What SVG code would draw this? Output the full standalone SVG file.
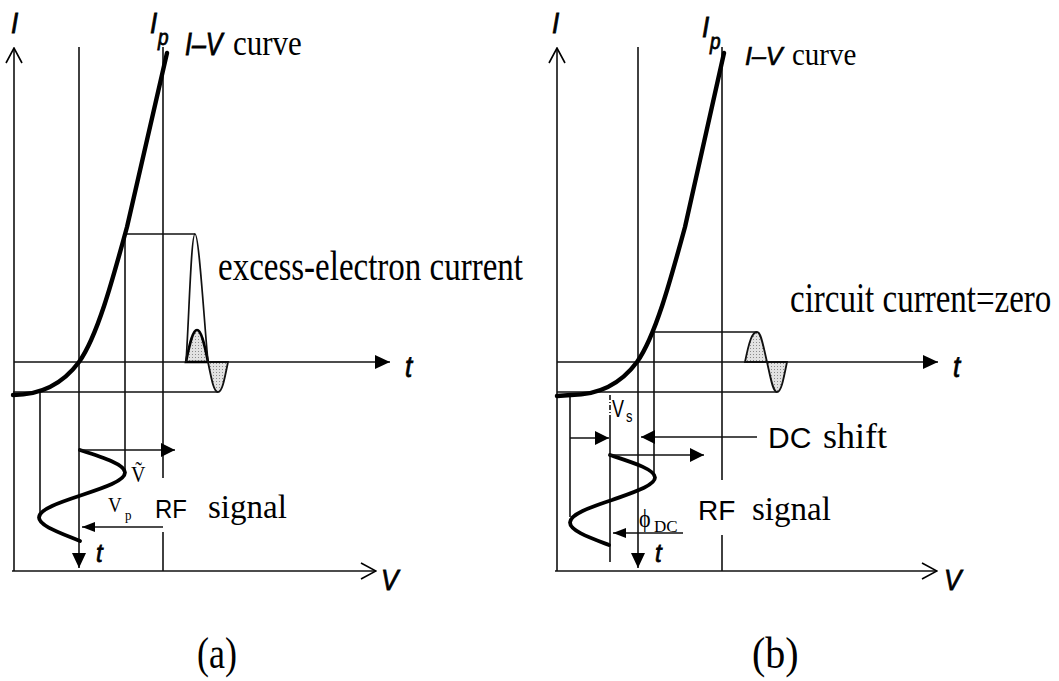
<svg xmlns="http://www.w3.org/2000/svg" width="1059" height="681" viewBox="0 0 1059 681">
<style>
.ln{stroke:#111;stroke-width:1.6;fill:none}
.thick{stroke:#000;stroke-width:4.4;fill:none;stroke-linecap:round;stroke-linejoin:round}
.sine{stroke:#000;stroke-width:3.8;fill:none;stroke-linecap:round}
.wave{stroke:#111;stroke-width:1.7;fill:none}
.shade{fill:url(#stip);stroke:#111;stroke-width:1.8}
.shade2{fill:url(#stip);stroke:#000;stroke-width:2.6}
.sans{font-family:"Liberation Sans",Arial,sans-serif;fill:#000}
.it{font-style:italic;stroke:#000;stroke-width:0.7}
.serif{font-family:"Liberation Serif","DejaVu Serif","Times New Roman",serif;fill:#000}
</style>
<defs>
<pattern id="stip" width="3" height="3" patternUnits="userSpaceOnUse"><rect width="3" height="3" fill="#e2e2e2"/><rect x="0" y="0" width="1" height="1" fill="#8a8a8a"/></pattern>
<marker id="tri" viewBox="0 0 15 14" refX="15" refY="7" markerWidth="15" markerHeight="14" markerUnits="userSpaceOnUse" orient="auto"><path d="M0,0 L15,7 L0,14 z" fill="#000"/></marker>
<marker id="tri-s" viewBox="0 0 14 14" refX="14" refY="7" markerWidth="14" markerHeight="14" markerUnits="userSpaceOnUse" orient="auto"><path d="M0,0 L14,7 L0,14 z" fill="#000"/></marker>
<marker id="tri-m" viewBox="0 0 13 10" refX="13" refY="5" markerWidth="13" markerHeight="10" markerUnits="userSpaceOnUse" orient="auto"><path d="M0,0 L13,5 L0,10 z" fill="#000"/></marker>
<marker id="open" viewBox="-1 -1 17 18" refX="15" refY="8" markerWidth="17" markerHeight="18" markerUnits="userSpaceOnUse" orient="auto"><path d="M0,0 L15,8 L0,16" fill="none" stroke="#000" stroke-width="1.6"/></marker>
</defs>

<g id="panel-a">
  <g id="a-axes">
    <line class="ln" x1="14" y1="571" x2="14" y2="48" marker-end="url(#open)"/>
    <line class="ln" x1="12" y1="571" x2="376" y2="571" marker-end="url(#open)"/>
    <line class="ln" x1="14" y1="362" x2="390" y2="362" marker-end="url(#tri)"/>
  </g>
  <g id="a-guides">
    <line class="ln" x1="79" y1="47" x2="79" y2="568" marker-end="url(#tri)"/>
    <line class="ln" x1="163" y1="47" x2="163" y2="478"/>
    <line class="ln" x1="163" y1="532" x2="163" y2="571"/>
    <line class="ln" x1="125" y1="234" x2="125" y2="472"/>
    <line class="ln" x1="40" y1="392" x2="40" y2="516"/>
    <line class="ln" x1="125" y1="234" x2="195" y2="234"/>
    <line class="ln" x1="13" y1="392" x2="218" y2="392"/>
  </g>
  <g id="a-current">
    <path class="shade2" d="M186,362 C190,342 193,330 197,330 C201,330 204,342 208,362 Z"/>
    <path class="shade" d="M208,362 C212,382 214,392 218,392 C222,392 224,382 228,362 Z"/>
    <path class="wave" d="M186,362 C189,320 191,234 195,234 C199,234 204,320 208,362"/>
  </g>
  <path id="a-iv-curve" class="thick" d="M13,395 C40,395 62,385 79,362 C97,337 112,282 127,227 L167,53"/>
  <path id="a-rf" class="sine" d="M80,450 C103,457.4 125,464.3 125,472.5 C125,480.7 104.4,487.6 82,495 C59.6,502.4 39,509.3 39,517.5 C39,525.7 59.6,532.6 80,541"/>
  <g id="a-arrows">
    <line class="ln" x1="79" y1="450" x2="175" y2="450" marker-end="url(#tri-s)"/>
    <line class="ln" x1="163" y1="527" x2="82" y2="527" marker-end="url(#tri-m)"/>
  </g>
  <g id="a-labels">
    <text class="sans it" font-size="26" transform="translate(11,33) scale(1,1.15)">I</text>
    <text class="sans it" font-size="26" transform="translate(150,33) scale(1,1.15)">I</text>
    <text class="sans it" font-size="19" transform="translate(158,45) scale(1,1.15)">p</text>
    <text class="sans it" font-size="25" transform="translate(185,55) scale(1,1.25)">I–V</text>
    <text class="serif" font-size="31" transform="translate(233,55) scale(1,1.15)">curve</text>
    <text class="serif" font-size="33" transform="translate(218,280) scale(1,1.3)">excess-electron current</text>
    <text class="sans it" font-size="26" transform="translate(405,377) scale(1,1.15)">t</text>
    <text class="serif" font-size="20" transform="translate(131,482) scale(1,1.15)">Ṽ</text>
    <text class="serif" font-size="19" transform="translate(108,512) scale(1,1.1)">V</text>
    <text class="serif" font-size="13" transform="translate(125,520) scale(1,1.1)">p</text>
    <text class="sans" font-size="24" transform="translate(155,518) scale(1,1.05)">RF</text>
    <text class="serif" font-size="33" transform="translate(208,518)">signal</text>
    <text class="sans it" font-size="24" transform="translate(96,562) scale(1,1.1)">t</text>
    <text class="sans it" font-size="26" transform="translate(381,590) scale(1,1.1)">V</text>
    <text class="serif" font-size="36" transform="translate(197,668) scale(1,1.25)">(a)</text>
  </g>
</g>

<g id="panel-b">
  <g id="b-axes">
    <line class="ln" x1="557" y1="571" x2="557" y2="48" marker-end="url(#open)"/>
    <line class="ln" x1="555" y1="571" x2="937" y2="571" marker-end="url(#open)"/>
    <line class="ln" x1="557" y1="362" x2="938" y2="362" marker-end="url(#tri)"/>
  </g>
  <g id="b-guides">
    <line class="ln" x1="638" y1="47" x2="638" y2="568" marker-end="url(#tri)"/>
    <line class="ln" x1="722" y1="47" x2="722" y2="480"/>
    <line class="ln" x1="722" y1="535" x2="722" y2="571"/>
    <line class="ln" x1="654" y1="332" x2="654" y2="477"/>
    <line class="ln" x1="610" y1="395" x2="610" y2="420" stroke-dasharray="5,2,1,2"/>
    <line class="ln" x1="610" y1="420" x2="610" y2="562"/>
    <line class="ln" x1="570" y1="395" x2="570" y2="517"/>
    <line class="ln" x1="655" y1="332" x2="757" y2="332"/>
    <line class="ln" x1="557" y1="392" x2="777" y2="392"/>
  </g>
  <g id="b-current">
    <path class="shade" d="M745,362 C749,342 752,332 757,332 C761,332 763,345 767,362 Z"/>
    <path class="shade" d="M767,362 C771,380 773,392 777,392 C781,392 783,382 787,362 Z"/>
  </g>
  <path id="b-iv-curve" class="thick" d="M557,396 L571,395 C598,395 620,385 637,362 C655,337 670,282 685,227 L724,53"/>
  <path id="b-rf" class="sine" d="M610,455 C632.4,462.4 655,469.3 655,477.5 C655,485.7 632.4,492.6 612,500 C589.6,507.4 570,514.3 570,522.5 C570,530.7 589.6,537.6 609,545"/>
  <g id="b-arrows">
    <line class="ln" x1="570" y1="438" x2="609" y2="438" marker-end="url(#tri-s)"/>
    <line class="ln" x1="757" y1="437" x2="641" y2="437" marker-end="url(#tri-s)"/>
    <line class="ln" x1="609" y1="455" x2="704" y2="455" marker-end="url(#tri-s)"/>
    <line class="ln" x1="683" y1="533" x2="613" y2="533" marker-end="url(#tri-m)"/>
  </g>
  <g id="b-labels">
    <text class="sans it" font-size="26" transform="translate(552,33) scale(1,1.15)">I</text>
    <text class="sans it" font-size="26" transform="translate(702,37) scale(1,1.15)">I</text>
    <text class="sans it" font-size="19" transform="translate(710,49) scale(1,1.15)">p</text>
    <text class="sans it" font-size="25" transform="translate(745,65)">I–V</text>
    <text class="serif" font-size="29" transform="translate(792,65) scale(1,1.1)">curve</text>
    <text class="serif" font-size="33" transform="translate(790,312) scale(1,1.25)">circuit current=zero</text>
    <text class="sans it" font-size="26" transform="translate(953,377) scale(1,1.15)">t</text>
    <text class="sans" font-size="18" transform="translate(612,417) scale(1,1.3)">V</text>
    <text class="sans" font-size="13" transform="translate(626,422) scale(1,1.2)">s</text>
    <text class="sans" font-size="30" transform="translate(768,448)">DC</text>
    <text class="serif" font-size="36" transform="translate(823,448)">shift</text>
    <text class="serif" font-size="22" transform="translate(639,527) scale(1,1.1)">ϕ</text>
    <text class="serif" font-size="17" transform="translate(654,532)">DC</text>
    <text class="sans" font-size="28" transform="translate(698,520)">RF</text>
    <text class="serif" font-size="33" transform="translate(752,520)">signal</text>
    <text class="sans it" font-size="24" transform="translate(655,562) scale(1,1.1)">t</text>
    <text class="sans it" font-size="26" transform="translate(944,590) scale(1,1.1)">V</text>
    <text class="serif" font-size="40" transform="translate(752,668) scale(1,1.1)">(b)</text>
  </g>
</g>
</svg>
